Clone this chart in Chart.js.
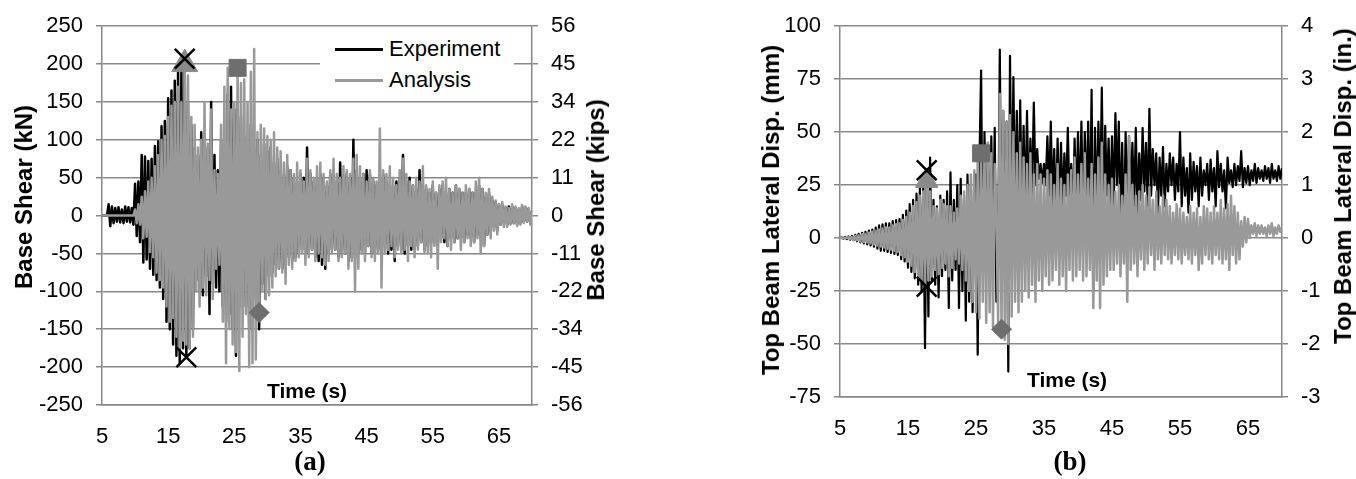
<!DOCTYPE html>
<html>
<head>
<meta charset="utf-8">
<script src="https://cdn.jsdelivr.net/npm/chart.js@4.4.1/dist/chart.umd.min.js"></script>
<style>
  body { margin: 0; background: #fff; }
  #wrap { position: relative; width: 1356px; height: 479px; overflow: hidden; font-family: "Liberation Sans", Arial, sans-serif; color: #000; }
  canvas { position: absolute; top: 0; }
  .vtitle { position: absolute; font-weight: bold; font-size: 24px; white-space: nowrap; transform: translate(-50%, -50%) rotate(-90deg); }
  .ttitle { position: absolute; font-weight: bold; font-size: 21px; white-space: nowrap; transform: translate(-50%, -50%); }
  .caption { position: absolute; font-family: "Liberation Serif", "Times New Roman", serif; font-weight: bold; font-size: 27px; transform: translate(-50%, -50%); }
  .legend { position: absolute; left: 320px; top: 34px; width: 194px; height: 62px; background: #fff; font-size: 22px; }
  .legend .row { position: absolute; left: 15px; height: 24px; }
  .legend .swatch { position: absolute; left: 0; top: 11px; width: 48px; height: 3px; }
  .legend .name { position: absolute; left: 54px; top: 0; line-height: 24px; white-space: nowrap; }
</style>
</head>
<body>
<div id="wrap">
  <canvas id="shear" width="640" height="479" style="left:0"></canvas>
  <canvas id="disp" width="656" height="479" style="left:700px"></canvas>

  <div class="vtitle" style="left:24px; top:197px">Base Shear (kN)</div>
  <div class="vtitle" style="left:596px; top:200px">Base Shear (kips)</div>
  <div class="ttitle" style="left:307px; top:391px">Time (s)</div>
  <div class="caption" style="left:310px; top:461px">(a)</div>
  <div class="legend">
    <div class="row" style="top:3px"><span class="swatch" style="background:#000"></span><span class="name">Experiment</span></div>
    <div class="row" style="top:34px"><span class="swatch" style="background:#999"></span><span class="name">Analysis</span></div>
  </div>

  <div class="vtitle" style="left:771px; top:210px">Top Beam Lateral Disp. (mm)</div>
  <div class="vtitle" style="left:1343px; top:186px">Top Beam Lateral Disp. (in.)</div>
  <div class="ttitle" style="left:1067px; top:380px">Time (s)</div>
  <div class="caption" style="left:1070px; top:461px">(b)</div>
</div>
<script>
// Records sampled every 0.25 s from t = 5 s
const T0 = 5;
const DT = 0.25;

const timeTicks = [5, 15, 25, 35, 45, 55, 65];
const kipsTicks = [-56, -45, -34, -22, -11, 0, 11, 22, 34, 45, 56];
const inchTicks = [-3, -2, -1, 0, 1, 2, 3, 4];

// (a) base shear, kN
const shearExp = [
  0, 0, 0, 0,  15, -14, 12, -10,  10, -8, 11, -9,  8, -10, 12, -8,  11, -9, 10, -12,
  42, -27, 45, -35,  80, -62, 78, -58,  72, -70, 75, -78,  92, -85, 98, -95,  118, -110, 125, -140,
  155, -150, 165, -170,  178, -185, 192, -195,  190, -175, 207, -187,  150, -175, 120, -150,  90, -85, 80, -100,
  110, -105, 70, -80,  90, -130, 150, -90,  80, -95, 60, -100,  100, -120, 90, -140,  160, -130, 170, -150,
  140, -185, 150, -120,  130, -100, 105, -120,  100, -150, 120, -130,  90, -110, 100, -150,  80, -90, 95, -110,
  85, -80, 90, -75,  70, -65, 75, -70,  60, -70, 55, -65,  65, -55, 60, -60,  50, -55, 45, -50,
  55, -45, 50, -50,  90, -50, 55, -45,  45, -55, 50, -60,  55, -65, 50, -70,  40, -50, 55, -45,
  50, -45, 45, -55,  70, -50, 45, -50,  55, -60, 50, -55,  100, -55, 60, -50,  50, -45, 55, -50,
  60, -40, 55, -50,  45, -50, 40, -45,  50, -45, 55, -40,  45, -50, 40, -45,  40, -60, 45, -40,
  50, -45, 80, -50,  45, -40, 50, -45,  40, -45, 35, -40,  60, -35, 40, -45,  35, -40, 30, -35,
  40, -35, 30, -40,  35, -30, 40, -35,  30, -40, 35, -30,  30, -35, 40, -30,  35, -30, 30, -35,
  30, -25, 35, -30,  30, -35, 30, -25,  40, -30, 35, -40,  25, -25, 30, -20,  20, -15, 18, -20,
  15, -12, 14, -10,  10, -12, 12, -10,  12, -10, 10, -12,  8, -10, 12, -8,  10, -8, 9, -10,
  5
];
const shearAna = [
  0, 0, 0, 0,  0, 0, 0, 0,  0, 0, 0, 0,  0, 0, 0, 0,  0, 0, 0, 0,
  8, -10, 15, -12,  25, -30, 32, -28,  45, -48, 50, -55,  65, -75, 80, -85,  100, -95, 105, -120,
  130, -140, 145, -135,  150, -160, 170, -175,  150, -165, 200, -170,  185, -175, 130, -160,  120, -100, 90, -120,
  100, -95, 150, -105,  95, -85, 140, -110,  60, -70, 55, -65,  120, -140, 170, -195,  195, -150, 140, -170,
  150, -180, 195, -205,  175, -160, 180, -130,  150, -200, 190, -195,  220, -190, 110, -128,  120, -100, 115, -110,
  105, -105, 100, -95,  110, -80, 90, -70,  85, -75, 70, -90,  80, -65, 60, -70,  55, -60, 70, -55,
  60, -50, 45, -65,  75, -55, 60, -45,  50, -60, 65, -50,  70, -55, 55, -65,  45, -60, 60, -50,
  75, -45, 55, -60,  50, -55, 65, -50,  60, -70, 55, -60,  75, -100, 80, -70,  65, -50, 55, -60,
  45, -40, 60, -55,  50, -60, 45, -50,  115, -95, 60, -50,  55, -45, 65, -40,  50, -55, 40, -45,
  60, -50, 75, -45,  55, -60, 45, -40,  40, -55, 50, -45,  45, -35, 65, -50,  40, -50, 35, -55,
  45, -40, 30, -70,  40, -35, 45, -30,  50, -40, 35, -45,  30, -35, 40, -30,  35, -45, 30, -35,
  40, -30, 35, -40,  30, -35, 45, -30,  50, -50, 35, -40,  30, -25, 35, -30,  25, -20, 20, -25,
  15, -12, 18, -15,  12, -15, 10, -12,  15, -10, 12, -14,  10, -12, 14, -10,  12, -8, 10, -12,
  5
];

// (b) top beam lateral displacement, mm
const dispExp = [
  0, 0.3, -0.3, 0.5,  -0.5, 0.8, -0.8, 1,  -1, 1.5, -1.5, 2,  -2, 2.5, -2.5, 3,  -3, 3.5, -3.5, 4,
  -4, 5, -5, 6,  -6, 6.5, -6, 7,  -6.5, 7, -7, 8,  -7.5, 8.5, -8, 9,  -10, 11, -11, 13,
  -14, 16, -16, 18,  -19, 21, -22, 24,  -25, 25, -52, 32,  -37, 38, -20, 18,  -22, 15, -28, 20,
  -18, 18, -15, 22,  -33, 31, -20, 18,  -15, 25, -33, 28,  -25, 20, -39, 30,  -30, 25, -35, 30,
  30, -55, 35, 79,  -15, 50, -10, 45,  -20, 48, -5, 52,  -30, -10, 89, -15,  60, -10, 55, -63,
  86, 5, 76, 10,  60, 8, 65, 12,  53, 10, 60, 15,  47, 20, 64, 25,  42, 28, 35, 26,
  35, 25, 48, 20,  55, 15, 42, 10,  47, 12, 45, 15,  40, 20, 52, 18,  35, 10, 47, 15,
  50, 12, 55, 8,  50, 15, 55, 5,  70, -25, 52, 10,  55, 15, 71, 10,  53, 20, 47, 12,
  48, 15, 59, 25,  55, 8, 45, -1,  50, 12, 48, 20,  45, 15, 52, 10,  40, 18, 52, 22,
  45, 15, 61, 20,  42, 25, 40, 12,  38, 20, 43, 15,  35, 22, 40, 25,  38, 18, 35, 22,
  50, 15, 38, 20,  33, 12, 40, 18,  36, 22, 34, 15,  38, 20, 32, 25,  35, 18, 37, 22,
  33, 15, 41, 24,  35, 22, 32, 14,  38, 26, 32, 24,  35, 25, 34, 27,  41, 24, 33, 26,
  34, 25, 32, 27,  35, 26, 33, 28,  32, 27, 34, 28,  33, 26, 35, 28,  32, 27, 34, 28,
  33
];
const dispAna = [
  0, 0, 0, 0,  0, 0.5, -0.5, 0.5,  -0.8, 1, -1, 1.2,  -1.5, 1.8, -1.8, 2,  -2, 2.5, -2.5, 3,
  -3, 3.5, -3.5, 4,  -4, 4.5, -4.5, 5,  -5, 5, -5.5, 6,  -6, 6.5, -6.5, 7,  -8, 8.5, -9, 10,
  -11, 12, -13, 15,  -16, 17, -18, 20,  -20, 22, -22, 27,  -20, 22, -18, 15,  -15, 14, -17, 18,
  -14, 16, -12, 15,  -18, 15, -14, 12,  -10, 14, -12, 20,  -15, 22, -20, 25,  -25, 30, -30, 32,
  -35, 38, -38, 40,  -30, 42, -40, 45,  -35, 40, -42, 35,  10, -40, 68, -43,  60, -48, 55, -50,
  58, -37, 50, -30,  40, -35, 45, -30,  38, -25, 35, -28,  40, -22, 30, -30,  35, -20, 30, -25,
  28, -18, 32, -22,  30, -20, 25, -15,  35, -22, 28, -18,  25, -25, 30, -15,  32, -20, 38, -18,
  30, -15, 35, -20,  40, -18, 28, -15,  35, -33, 30, -20,  38, -33, 45, -22,  30, -18, 25, -15,
  28, -15, 22, -12,  25, -18, 20, -12,  30, -30, 48, -15,  25, -12, 20, -18,  22, -10, 25, -15,
  20, -12, 24, -8,  18, -15, 22, -10,  15, -12, 20, -8,  18, -10, 15, -12,  12, -8, 16, -10,
  14, -12, 12, -8,  10, -10, 15, -12,  12, -8, 14, -15,  10, -12, 15, -8,  14, -10, 12, -12,
  15, -8, 12, -10,  18, -12, 14, -10,  16, -15, 20, -8,  15, -12, 12, -10,  8, -4, 10, -2,
  9, 0, 6, 2,  7, 1, 6, 2,  6, 2, 5, 1,  6, 2, 7, 1,  5, 2, 6, 3,
  5
];

// event markers: [time (s), value]
const shearCross = [[17.5, 207], [17.75, -187]];
const shearTri = [[17.5, 200]];
const shearSq = [[25.5, 195]];
const shearDia = [[28.75, -128]];
const dispCross = [[17.75, 32], [17.75, -23]];
const dispTri = [[17.75, 27]];
const dispSq = [[25.75, 40]];
const dispDia = [[28.75, -43]];

const GRID = '#888888';
const TICK_FONT = { family: 'Liberation Sans, Arial, sans-serif', size: 22 };

function series(values) {
  return values.map((v, i) => ({ x: T0 + i * DT, y: v }));
}

function markers(pts, style, radius, color) {
  return {
    data: pts.map(p => ({ x: p[0], y: p[1] })),
    showLine: false,
    pointStyle: style,
    pointRadius: radius,
    pointBackgroundColor: color,
    pointBorderColor: color,
    pointBorderWidth: style === 'crossRot' ? 2.5 : 1,
    order: 0
  };
}

function makeChart(id, c) {
  return new Chart(document.getElementById(id), {
    type: 'line',
    data: {
      datasets: [
        markers(c.cross, 'crossRot', 14, '#000'),
        markers(c.tri, 'triangle', c.triR, '#8a8a8a'),
        markers(c.sq, 'rect', 12, '#6e6e6e'),
        markers(c.dia, 'rectRot', 10, '#6e6e6e'),
        { label: 'Analysis', data: series(c.ana), borderColor: '#999999', borderWidth: 2.5,
          borderJoinStyle: 'round', pointRadius: 0, order: 1 },
        { label: 'Experiment', data: series(c.exp), borderColor: '#000000', borderWidth: c.expWidth,
          borderJoinStyle: 'round', pointRadius: 0, order: 2 }
      ]
    },
    options: {
      responsive: false,
      animation: false,
      events: [],
      layout: { padding: { top: c.top } },
      plugins: { legend: { display: false }, tooltip: { enabled: false } },
      scales: {
        x: {
          type: 'linear', min: 5, max: 70,
          afterBuildTicks: s => { s.ticks = timeTicks.map(v => ({ value: v })); },
          afterFit: s => { s.height = c.xHeight; },
          grid: { display: false },
          border: { color: GRID, width: 1.5 },
          ticks: { font: TICK_FONT, color: '#000', padding: 11, maxRotation: 0, autoSkip: false }
        },
        y: {
          position: 'left', min: c.yMin, max: c.yMax,
          ticks: { stepSize: c.yStep, font: TICK_FONT, color: '#000', padding: 13 },
          afterFit: s => { s.width = c.yWidth; },
          grid: { color: GRID, lineWidth: 1.5, tickLength: 6 },
          border: { color: GRID, width: 1.5 }
        },
        y2: {
          position: 'right', min: c.y2Min, max: c.y2Max,
          ticks: { stepSize: c.y2Step, font: TICK_FONT, color: '#000', padding: 13, callback: c.y2Label },
          afterFit: s => { s.width = c.y2Width; },
          grid: { drawOnChartArea: false, color: GRID, lineWidth: 1.5, tickLength: 6 },
          border: { color: GRID, width: 1.5 }
        }
      }
    }
  });
}

makeChart('shear', {
  exp: shearExp, ana: shearAna, expWidth: 2.5,
  cross: shearCross, tri: shearTri, triR: 15, sq: shearSq, dia: shearDia,
  top: 22, xHeight: 74, yWidth: 102, y2Width: 108,
  yMin: -250, yMax: 250, yStep: 50,
  y2Min: -250, y2Max: 250, y2Step: 50,
  y2Label: (v, i) => kipsTicks[i]
});

makeChart('disp', {
  exp: dispExp, ana: dispAna, expWidth: 2.2,
  cross: dispCross, tri: dispTri, triR: 13, sq: dispSq, dia: dispDia,
  top: 21, xHeight: 82, yWidth: 140, y2Width: 74,
  yMin: -75, yMax: 100, yStep: 25,
  y2Min: -3, y2Max: 4, y2Step: 1,
  y2Label: (v, i) => inchTicks[i]
});
</script>
</body>
</html>
